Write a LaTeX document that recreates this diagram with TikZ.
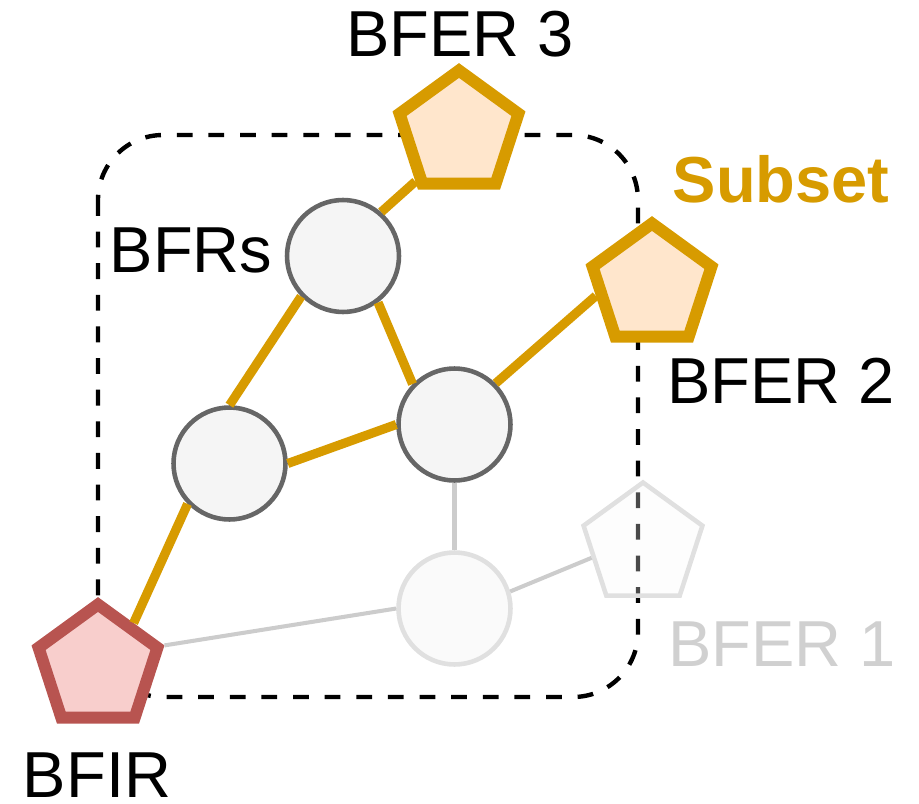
\documentclass[tikz,border=0pt]{standalone}
\usepackage{fontspec}
\setmainfont{Liberation Sans}
\usetikzlibrary{shapes,positioning}

\definecolor{gold}{HTML}{D79B00}
\definecolor{peach}{HTML}{FFE6CC}
\definecolor{brick}{HTML}{B85450}
\definecolor{rose}{HTML}{F8CECC}
\definecolor{routerfill}{HTML}{F5F5F5}
\definecolor{routerline}{HTML}{666666}
\definecolor{ghostline}{HTML}{E0E0E0}
\definecolor{ghostlink}{HTML}{CCCCCC}
\definecolor{ghosttext}{HTML}{D0D0D0}

\tikzset{
  lbl/.style={font=\fontsize{37}{44}\selectfont, inner sep=0pt, anchor=base},
  pent/.style={regular polygon, regular polygon sides=5, minimum size=2.5cm, inner sep=0pt},
  bfer/.style={pent, draw=gold, fill=peach, line width=6.8pt},
  bfir/.style={pent, draw=brick, fill=rose, line width=6.8pt},
  ghostpent/.style={pent, draw=ghostline, fill=black!3, fill opacity=0.3, line width=2.6pt},
  router/.style={circle, minimum size=2.24cm, inner sep=0pt, draw=routerline, fill=routerfill, line width=2.6pt},
  ghostrouter/.style={router, draw=ghostline, fill=black!2},
  link/.style={draw=gold, line width=5.2pt},
  ghostlink/.style={draw=ghostlink, line width=2.3pt}
}

\begin{document}
\begin{tikzpicture}[x=0.02cm, y=-0.02cm]
    \useasboundingbox (0,0) rectangle (919,804);

    % Subset boundary
    \draw[line width=2.5pt, dash pattern=on 9pt off 9pt, rounded corners=1.3cm] (98,135) rectangle (638,697);

    % Routers outside the subset
    \node[ghostpent] (bfer1) at (643,545) {};
    \node[ghostrouter] (r4) at (454.5,608.5) {};

    % BFRs
    \node[router] (r1) at (229.5,463.5) {};
    \node[router] (r2) at (343,256) {};
    \node[router] (r3) at (454.5,424.5) {};

    % Ingress and egress routers
    \node[bfir] (bfir) at (98,667) {};
    \node[bfer] (bfer3) at (459,133) {};
    \node[bfer] (bfer2) at (652,286) {};

    % Unused links
    \draw[ghostlink] (r3.270) -- (r4.90);
    \draw[ghostlink] (bfir.corner 5) -- (r4.180);
    \draw[ghostlink] (r4.17) -- (bfer1.194);

    % Links towards the subset
    \draw[link] (bfir.51) -- (r1.224);
    \draw[link] (r1.90) -- (r2.224);
    \draw[link] (r2.49) -- (bfer3.228);
    \draw[link] (r2.307) -- (r3.136);
    \draw[link] (r1.0) -- (r3.180);
    \draw[link] (r3.45) -- (bfer2.190);

    % Labels
    \node[lbl] (lbfer3) at (460,57) {BFER 3};
    \node[lbl, font=\fontsize{37}{44}\selectfont\bfseries, text=gold] (lsubset) at (781,203) {Subset};
    \node[lbl] (lbfrs) at (191,272) {BFRs};
    \node[lbl] (lbfer2) at (781,403) {BFER 2};
    \node[lbl, text=ghosttext] (lbfer1) at (782,666) {BFER 1};
    \node[lbl] (lbfir) at (97,797) {BFIR};
\end{tikzpicture}
\end{document}
